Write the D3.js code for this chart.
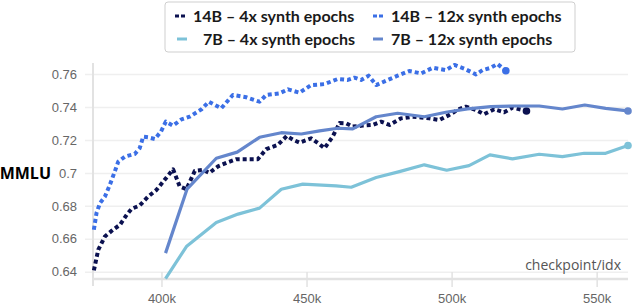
<!DOCTYPE html>
<html>
<head>
<meta charset="utf-8">
<script src="https://cdn.jsdelivr.net/npm/d3@7"></script>
<style>
    body { margin: 0; background: #fff; }
    svg { display: block; font-family: "Open Sans", sans-serif; }
    .tick text { fill: #666; font-size: 13px; }
    .legend-text { font-family: "Lato", sans-serif; font-weight: 700; font-size: 16px; fill: #1a1a1a; }
</style>
</head>
<body>
<div id="chart"></div>
<script>

/* checkpoint idx in thousands, MMLU score */
const ckpt14B4x = [376.7, 378.2, 380.5, 383.3, 385.7, 388.0, 389.7, 392.5, 395.4, 398.3, 401.1, 404.0, 406.3,
    408.6, 411.5, 414.3, 416.5, 419.5, 422.5, 425.8, 429.5, 433.2, 436.1, 440.1, 443.2, 445.5, 447.6, 451.6,
    454.0, 456.2, 459.0, 461.4, 463.7, 465.9, 469.4, 472.8, 475.7, 478.6, 482.6, 486.6, 489.5, 492.3, 495.8,
    499.2, 502.3, 504.9, 508.4, 511.2, 514.7, 518.1, 521.0, 525.8];
const mmlu14B4x = [0.6408, 0.6533, 0.6614, 0.6655, 0.6685, 0.6745, 0.6782, 0.6802, 0.6856, 0.6897, 0.6958, 0.7022, 0.6917,
    0.6901, 0.7012, 0.7018, 0.7000, 0.7040, 0.7062, 0.7083, 0.7083, 0.7083, 0.7144, 0.7170, 0.7224, 0.7200, 0.7184, 0.7210,
    0.7180, 0.7150, 0.7220, 0.7303, 0.7301, 0.7281, 0.7287, 0.7291, 0.7311, 0.7291, 0.7331, 0.7341, 0.7336, 0.7331, 0.7321,
    0.7352, 0.7385, 0.7402, 0.7382, 0.7356, 0.7386, 0.7368, 0.7396, 0.7376];

const ckpt14B12x = [376.7, 377.6, 378.8, 380.5, 382.2, 383.9, 385.1, 387.4, 390.8, 392.5, 393.7, 395.4, 397.7,
    399.8, 401.5, 404.0, 406.9, 409.7, 413.8, 416.3, 420.6, 424.6, 429.2, 433.8, 436.1, 440.7, 443.6, 447.6,
    451.6, 456.2, 460.8, 464.2, 466.5, 468.8, 471.4, 474.0, 478.0, 481.4, 485.4, 489.5, 493.5, 498.0, 501.0,
    504.7, 508.4, 510.7, 513.5, 515.8, 518.7];
const mmlu14B12x = [0.6655, 0.6756, 0.6816, 0.6856, 0.6927, 0.7008, 0.7068, 0.7099, 0.7115, 0.7150, 0.7220, 0.7216, 0.7206,
    0.7250, 0.7311, 0.7287, 0.7325, 0.7341, 0.7386, 0.7432, 0.7392, 0.7473, 0.7459, 0.7432, 0.7473, 0.7483, 0.7507, 0.7487,
    0.7533, 0.7539, 0.7570, 0.7564, 0.7578, 0.7564, 0.7590, 0.7533, 0.7564, 0.7590, 0.7618, 0.7604, 0.7638, 0.7624, 0.7655,
    0.7630, 0.7598, 0.7624, 0.7638, 0.7661, 0.7620];

const ckpt7B4x = [401.4, 408.6, 418.9, 426.4, 433.8, 441.3, 448.7, 460.2, 465.4, 474.0, 482.0, 490.6, 498.3,
    506.0, 513.2, 521.0, 530.2, 538.2, 545.7, 553.1, 560.8];
const mmlu7B4x = [0.6358, 0.6553, 0.6699, 0.6750, 0.6786, 0.6901, 0.6932, 0.6921, 0.6913, 0.6972, 0.7008, 0.7049, 0.7016,
    0.7044, 0.7109, 0.7085, 0.7113, 0.7099, 0.7119, 0.7119, 0.7166];

const ckpt7B12x = [401.4, 408.8, 418.9, 426.1, 433.8, 441.3, 448.2, 454.5, 460.8, 465.9, 474.0, 481.4, 490.6,
    498.0, 505.5, 513.5, 521.0, 530.2, 538.2, 545.9, 553.1, 560.8];
const mmlu7B12x = [0.6513, 0.6901, 0.7089, 0.7126, 0.7216, 0.7244, 0.7236, 0.7255, 0.7271, 0.7267, 0.7341, 0.7362, 0.7341,
    0.7368, 0.7389, 0.7402, 0.7406, 0.7406, 0.7388, 0.7412, 0.7392, 0.7376];

/* series names (legend order) */
const seriesNames = ["14B \u2013 4x synth epochs", "14B \u2013 12x synth epochs",
    "7B \u2013 4x synth epochs", "7B \u2013 12x synth epochs"];

/* tick values and labels */
const xTicks = [400, 450, 500, 550];
const yTicks = [0.64, 0.66, 0.68, 0.70, 0.72, 0.74, 0.76];
const yTickLabels = ["0.64", "0.66", "0.68", "0.7", "0.72", "0.74", "0.76"];

const series = [
    { name: seriesNames[0], x: ckpt14B4x, y: mmlu14B4x, color: "#0b1150", dotted: true },
    { name: seriesNames[1], x: ckpt14B12x, y: mmlu14B12x, color: "#3b6fe6", dotted: true },
    { name: seriesNames[2], x: ckpt7B4x, y: mmlu7B4x, color: "#7dc2d8", dotted: false },
    { name: seriesNames[3], x: ckpt7B12x, y: mmlu7B12x, color: "#6486cc", dotted: false }
];

/* layout */
const W = 640, H = 307;
const margin = { top: 63, right: 12, bottom: 28, left: 93 };
const width = W - margin.left - margin.right;
const height = H - margin.top - margin.bottom;

const svg = d3.select("#chart").append("svg")
    .attr("width", W)
    .attr("height", H);

const g = svg.append("g")
    .attr("transform", `translate(${margin.left}, ${margin.top})`);

/* scales */
const xScale = d3.scaleLinear().domain([376.4, 560.8]).range([0, width]);
const yScale = d3.scaleLinear().domain([0.6356, 0.7667]).range([height, 0]);

/* y gridlines + labels */
g.append("g")
    .attr("class", "y-axis")
    .call(d3.axisLeft(yScale)
        .tickValues(yTicks)
        .tickSize(-width)
        .tickFormat((d, i) => yTickLabels[i]))
    .call(a => a.select(".domain").remove())
    .call(a => a.selectAll(".tick line")
        .attr("x1", -8)
        .attr("stroke", "#efefef")
        .attr("stroke-width", 1.5))
    .call(a => a.selectAll(".tick text").attr("x", -16));

/* left axis line */
g.append("line")
    .attr("x1", 0).attr("x2", 0)
    .attr("y1", 0).attr("y2", height + 7)
    .attr("stroke", "#e2e2e2")
    .attr("stroke-width", 2);

/* x axis */
g.append("g")
    .attr("class", "x-axis")
    .attr("transform", `translate(0, ${height})`)
    .call(d3.axisBottom(xScale)
        .tickValues(xTicks)
        .tickSize(0)
        .tickFormat(d => d + "k"))
    .call(a => a.select(".domain").remove())
    .call(a => a.selectAll(".tick line")
        .attr("y1", -7).attr("y2", 8)
        .attr("stroke", "#e2e2e2")
        .attr("stroke-width", 1.5))
    .call(a => a.selectAll(".tick text").attr("y", 15));

g.append("line")
    .attr("x1", 0).attr("x2", width)
    .attr("y1", height).attr("y2", height)
    .attr("stroke", "#e2e2e2")
    .attr("stroke-width", 2.5);

/* axis titles */
svg.append("text")
    .text("MMLU")
    .attr("x", 51).attr("y", 179)
    .attr("text-anchor", "end")
    .style("font-size", "16px")
    .style("font-weight", 700)
    .attr("fill", "#000");

g.append("text")
    .text("checkpoint/idx")
    .attr("x", width - 7).attr("y", height - 9)
    .attr("text-anchor", "end")
    .style("font-size", "14px")
    .attr("fill", "#555");

/* lines */
const lineGen = d3.line()
    .x(d => xScale(d[0]))
    .y(d => yScale(d[1]));

const plot = g.append("g");

series.forEach(function(s) {
    const pts = s.x.map((x, i) => [x, s.y[i]]);
    plot.append("path")
        .attr("d", lineGen(pts))
        .attr("fill", "none")
        .attr("stroke", s.color)
        .attr("stroke-width", s.dotted ? 4 : 3.2)
        .attr("stroke-dasharray", s.dotted ? "4,3" : null)
        .attr("stroke-linejoin", "round");
    const last = pts[pts.length - 1];
    plot.append("circle")
        .attr("cx", xScale(last[0]))
        .attr("cy", yScale(last[1]))
        .attr("r", 3.8)
        .attr("fill", s.color);
});

/* legend */
const legend = svg.append("g").attr("transform", "translate(165, 2)");
legend.append("rect")
    .attr("width", 410).attr("height", 50)
    .attr("rx", 3)
    .attr("fill", "#fff")
    .attr("stroke", "#cfcfcf");

const legendPos = [[10, 14], [208, 14], [12, 37], [208, 37]];
series.forEach(function(s, i) {
    const [lx, ly] = legendPos[i];
    const item = legend.append("g").attr("transform", `translate(${lx}, ${ly})`);
    item.append("line")
        .attr("x1", 0).attr("x2", 10)
        .attr("y1", 0).attr("y2", 0)
        .attr("stroke", s.color)
        .attr("stroke-width", 3)
        .attr("stroke-dasharray", s.dotted ? "4,2" : null);
    item.append("text")
        .attr("class", "legend-text")
        .attr("x", i === 2 ? 26 : 18)
        .attr("y", 5.5)
        .text(s.name);
});

</script>
</body>
</html>
